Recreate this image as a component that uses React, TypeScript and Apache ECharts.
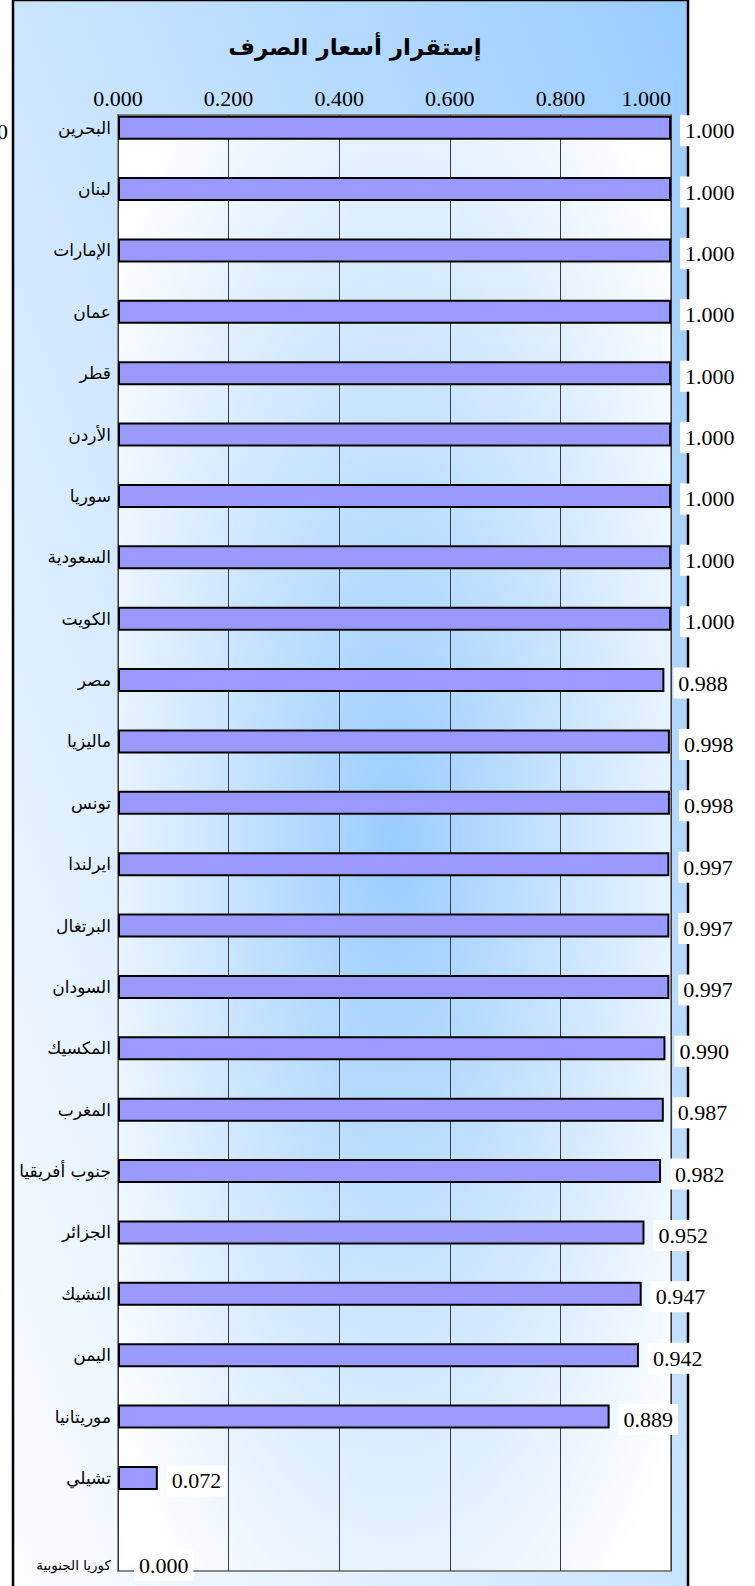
import React, { useEffect, useRef } from 'react';
import * as echarts from 'echarts';

const chartTitle = 'إستقرار أسعار الصرف';
const categories = [
  'البحرين', 'لبنان', 'الإمارات', 'عمان', 'قطر', 'الأردن', 'سوريا', 'السعودية',
  'الكويت', 'مصر', 'ماليزيا', 'تونس', 'ايرلندا', 'البرتغال', 'السودان', 'المكسيك',
  'المغرب', 'جنوب أفريقيا', 'الجزائر', 'التشيك', 'اليمن', 'موريتانيا', 'تشيلي', 'كوريا الجنوبية',
];
const values = [
  1.0, 1.0, 1.0, 1.0, 1.0, 1.0, 1.0, 1.0,
  1.0, 0.988, 0.998, 0.998, 0.997, 0.997, 0.997, 0.99,
  0.987, 0.982, 0.952, 0.947, 0.942, 0.889, 0.072, 0.0,
];
const axisMin = 0;
const axisMax = 1;
const axisStep = 0.2;

export default function App() {
  const ref = useRef<HTMLDivElement>(null);
  useEffect(() => {
    const chart = echarts.init(ref.current!, null, { renderer: 'svg' });
    const last = categories.length - 1;
    const serif = 'Liberation Serif';
    const arabic = 'DejaVu Sans';
    chart.setOption({
      animation: false,
      title: {
        text: chartTitle,
        left: 350,
        top: 30,
        textAlign: 'center',
        textStyle: { fontFamily: arabic, fontWeight: 'bold', fontSize: 23, color: '#000' },
      },
      graphic: {
        elements: [
          {
            type: 'rect',
            z: -10,
            silent: true,
            shape: { x: 13, y: 0, width: 675, height: 1700 },
            style: {
              fill: new echarts.graphic.LinearGradient(1, 0, 0, 1, [
                { offset: 0, color: '#99ccff' },
                { offset: 1, color: '#ffffff' },
              ]),
              stroke: '#000',
              lineWidth: 2.5,
            },
          },
          {
            type: 'text',
            silent: true,
            x: 8,
            y: 131,
            style: { text: '1.000', font: '22px Liberation Serif', fill: '#000', textAlign: 'right', textVerticalAlign: 'middle' },
          },
        ],
      },
      grid: [
        {
          left: 118, top: 115, width: 553, height: 1456, show: true,
          backgroundColor: new echarts.graphic.RadialGradient(0.5, 0.5, 0.65, [
            { offset: 0, color: '#99ccff' },
            { offset: 1, color: '#ffffff' },
          ]),
          borderColor: '#888888', borderWidth: 2,
        },
        { left: 118, top: 97, width: 553, height: 1473, show: false },
      ],
      xAxis: [
        {
          gridIndex: 0, type: 'value', position: 'top', min: axisMin, max: axisMax, interval: axisStep,
          axisLine: { show: false }, axisTick: { show: false },
          splitLine: { show: true, lineStyle: { color: '#3a3a3a', width: 1 } },
          axisLabel: {
            margin: 6, fontFamily: serif, fontSize: 22, color: '#000',
            alignMaxLabel: 'right',
            formatter: (v: number) => v.toFixed(3),
          },
        },
        { gridIndex: 1, type: 'value', min: axisMin, max: axisMax, show: false },
      ],
      yAxis: [
        { gridIndex: 0, type: 'value', min: 0, max: 1, show: false },
        {
          gridIndex: 1, type: 'category', inverse: true,
          data: categories,
          axisLine: { show: false }, axisTick: { show: false }, splitLine: { show: false },
          axisLabel: {
            margin: 7, fontFamily: arabic, fontSize: 17, color: '#000',
            formatter: (v: string, i: number) => (i === last ? '{k|' + v + '}' : v),
            rich: {
              k: { fontFamily: arabic, fontSize: 13.5, color: '#000', padding: [52, 0, 0, 0] },
            },
          },
        },
      ],
      series: [
        {
          type: 'bar',
          xAxisIndex: 1,
          yAxisIndex: 1,
          barWidth: 24,
          data: values.map((v, i) =>
            i === last ? { value: v, itemStyle: { borderWidth: 0 }, label: { offset: [7, 26] } } : v),
          itemStyle: { color: '#9999ff', borderColor: '#000', borderWidth: 2 },
          label: {
            show: true,
            position: 'right',
            distance: 9,
            offset: [0, 3],
            fontFamily: serif,
            fontSize: 22,
            color: '#000',
            backgroundColor: '#ffffff',
            padding: [5, 5, 4, 5],
            formatter: (p: any) => Number(p.value).toFixed(3),
          },
        },
      ],
    });
    return () => chart.dispose();
  }, []);
  return <div ref={ref} style={{ position: 'absolute', left: 0, top: 0, width: 755, height: 1586 }} />;
}
